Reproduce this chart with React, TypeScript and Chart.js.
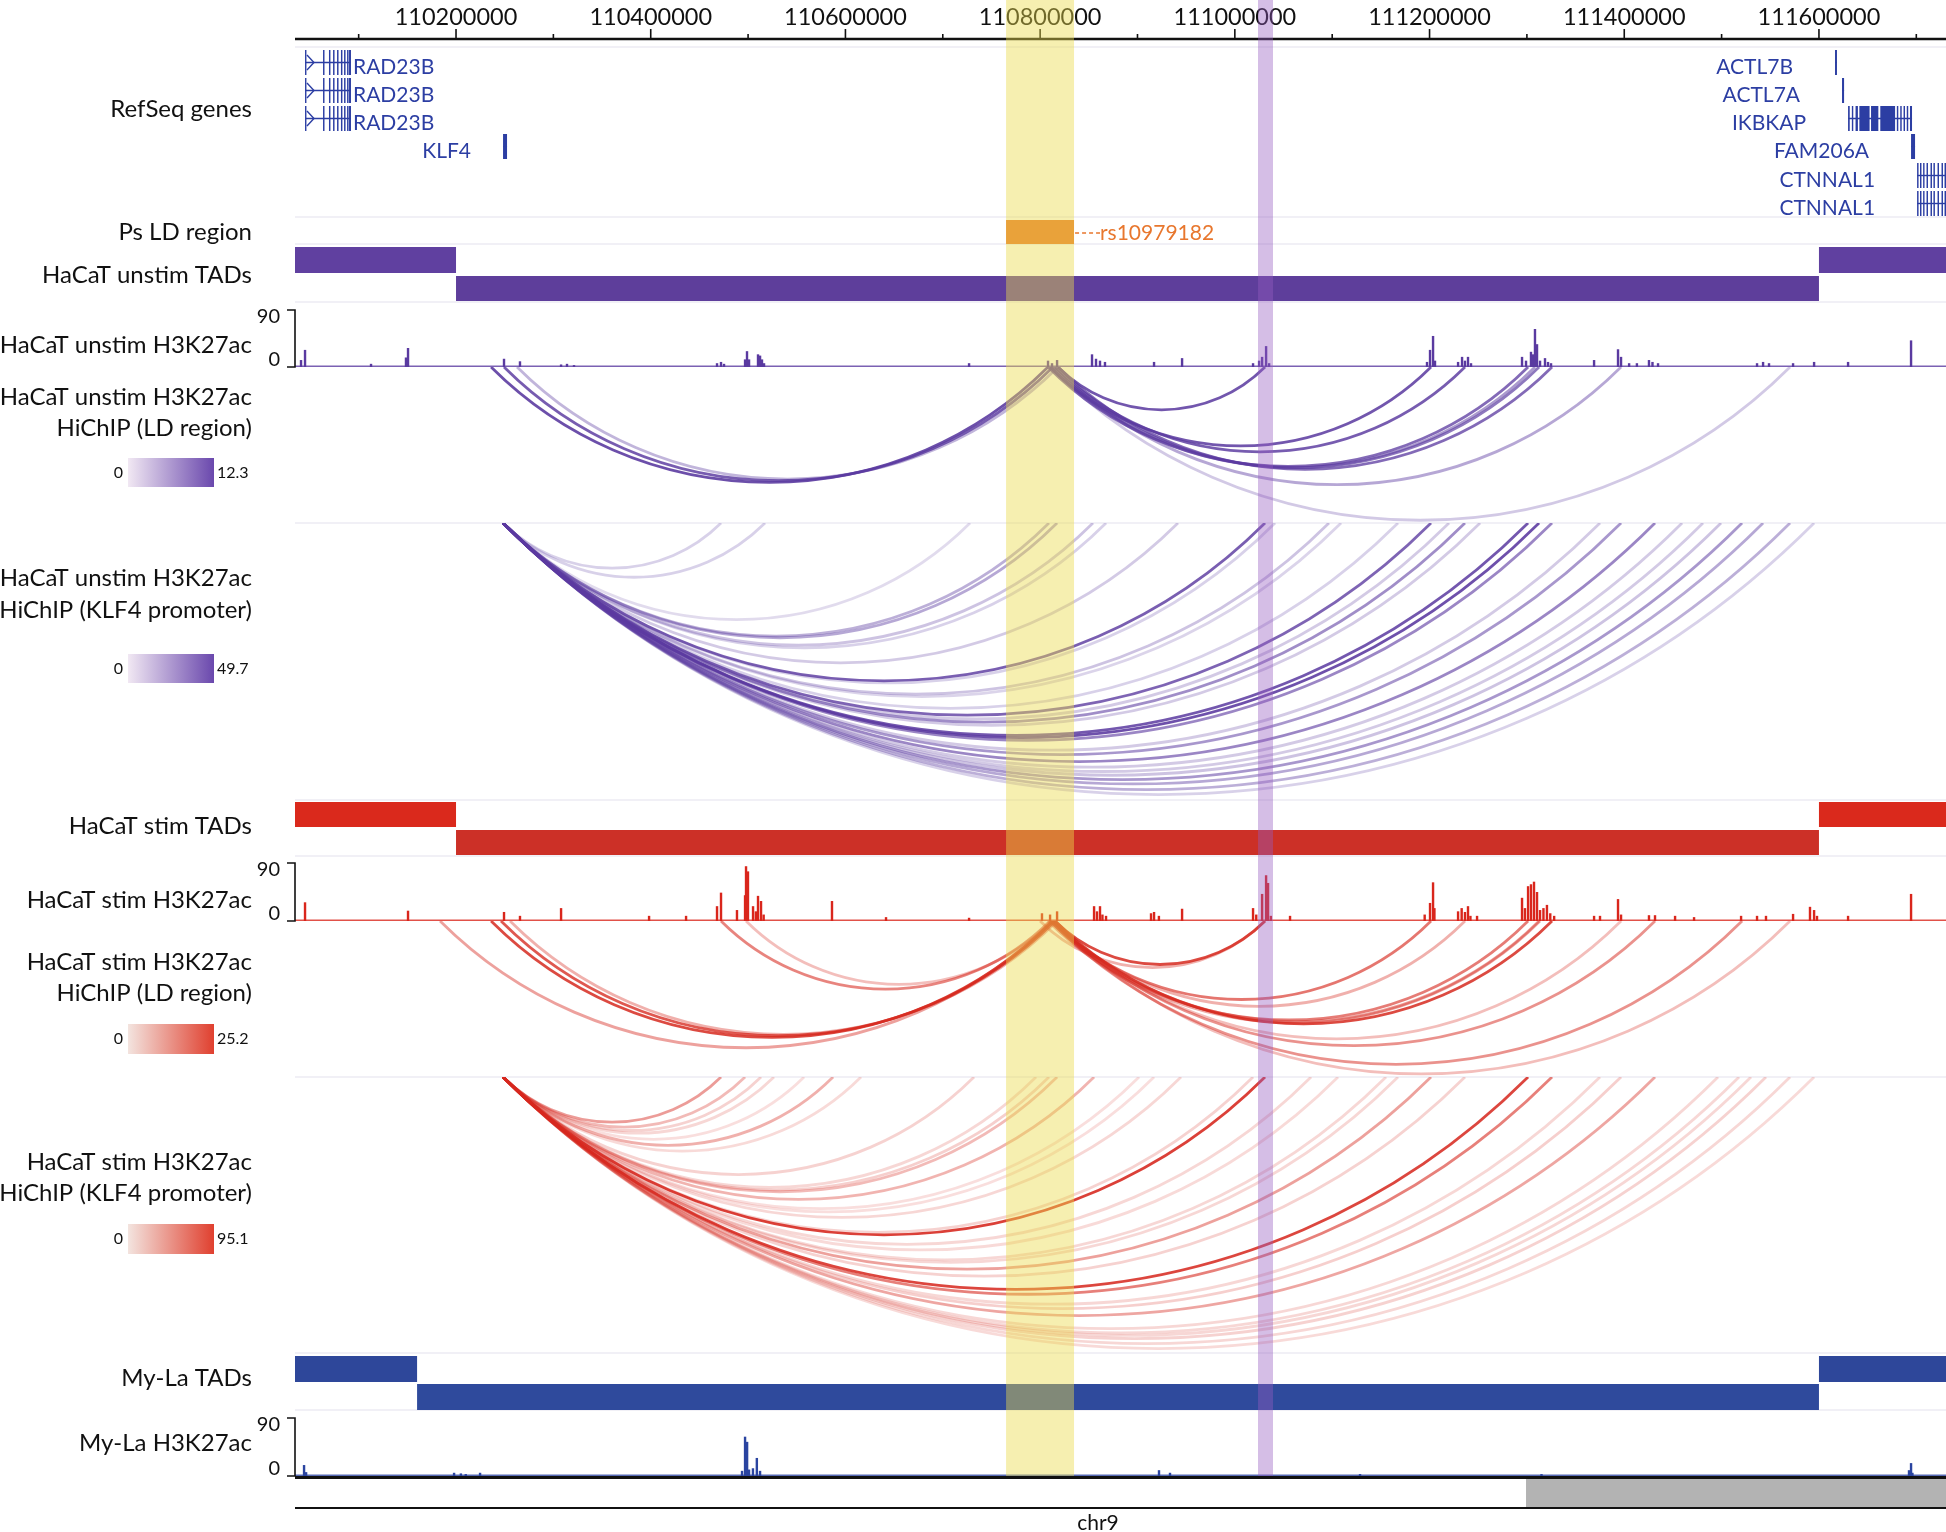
import React, { useEffect, useRef } from 'react';
import { Chart, registerables } from 'chart.js';
Chart.register(...registerables);

const W = 1946;
const H = 1532;
const LEFT = 295;

// genomic window (kb)
const X_MIN = 110034.6;
const X_MAX = 111730.5;

// ruler
const RULER_MAJOR = [110200, 110400, 110600, 110800, 111000, 111200, 111400, 111600];
const RULER_LABELS = ['110200000', '110400000', '110600000', '110800000', '111000000', '111200000', '111400000', '111600000'];
const RULER_MINOR = [110100, 110300, 110500, 110700, 110900, 111100, 111300, 111500, 111700];

// highlighted regions (kb)
const LD_REGION = [110765.0, 110834.8];
const SNP_REGION = [111023.8, 111039.2];
const SNP_LABEL = 'rs10979182';

// RefSeq genes
const GENE_NAMES = ['RAD23B', 'RAD23B', 'RAD23B', 'KLF4', 'ACTL7B', 'ACTL7A', 'IKBKAP', 'FAM206A', 'CTNNAL1', 'CTNNAL1'];
const GENE_ROWS = [0, 1, 2, 3, 0, 1, 2, 3, 4, 5];
const GENE_STARTS = [110044.9, 110044.9, 110044.9, 110248.3, 111616.5, 111623.7, 111629.9, 111694.6, 111700.8, 111700.8];
const GENE_ENDS = [110092.1, 110092.1, 110092.1, 110252.4, 111618.5, 111625.8, 111695.6, 111698.7, 111740, 111740];
const RAD23B_EXONS = [[110044.9, 110046.2], [110063.4, 110064.9], [110069.5, 110071], [110073.7, 110075.2], [110077.8, 110079.3], [110081.8, 110083.3], [110085, 110086.5], [110088.1, 110089.6], [110090.1, 110092.1]];
const CTNNAL1_EXONS = [[111700.8, 111702.3], [111703.8, 111705.3], [111707, 111708.4], [111710.5, 111712], [111714.6, 111716.1], [111717.6, 111719.1], [111721.8, 111723.3], [111725.9, 111727.4], [111729, 111730.5]];
const GENE_EXONS = [
  RAD23B_EXONS,
  RAD23B_EXONS,
  RAD23B_EXONS,
  [[110248.3, 110252.4]],
  [[111616.5, 111618.5]],
  [[111623.7, 111625.8]],
  [[111629.9, 111631.6], [111633.8, 111635], [111637.6, 111640], [111641.5, 111652], [111653.5, 111661], [111663, 111678.2], [111680, 111681.5], [111683.5, 111685], [111686.9, 111688.4], [111690.2, 111691.7], [111693.5, 111695.6]],
  [[111694.6, 111698.7]],
  CTNNAL1_EXONS,
  CTNNAL1_EXONS,
];

// TADs: [start kb, end kb, row]
const UNSTIM_TADS = [[110000, 110200, 0], [110200, 111600, 1], [111600, 111800, 0]];
const STIM_TADS = [[110000, 110200, 0], [110200, 111600, 1], [111600, 111800, 0]];
const MYLA_TADS = [[110000, 110160, 0], [110160, 111600, 1], [111600, 111800, 0]];

// H3K27ac signal: [position kb, value]
const SIGNAL_MAX = 90;
const UNSTIM_H3K27AC = [
  [110040.8, 11], [110044.9, 27], [110112.7, 5], [110148.6, 15], [110150.7, 30], [110249.3, 13], [110265.7, 9],
  [110307.9, 4], [110314, 5], [110321.2, 3], [110468.1, 6], [110472.2, 8], [110475.3, 5],
  [110496.9, 12], [110498.9, 25], [110501, 12], [110510.2, 20], [110512.3, 18], [110514.3, 12], [110516.4, 6],
  [110727, 6], [110808.1, 10], [110812.2, 6], [110817.4, 11],
  [110853.3, 20], [110857.4, 13], [110861.5, 10], [110866.6, 8], [110917, 8], [110945.8, 14],
  [111018.7, 6], [111024.9, 10], [111028, 16], [111032.1, 33], [111035.2, 6],
  [111197.4, 8], [111200.5, 27], [111203.6, 49], [111205.6, 10],
  [111229.3, 8], [111233.4, 16], [111236.4, 10], [111239.5, 16], [111242.6, 6],
  [111295, 16], [111299.1, 10], [111304.2, 24], [111306.3, 20], [111308.3, 60], [111310.4, 36], [111313.5, 10], [111318.6, 14], [111321.7, 8], [111324.8, 6],
  [111369, 11], [111393.6, 28], [111396.7, 16], [111405, 6], [111413, 6], [111425.4, 11], [111429, 8], [111434.7, 6],
  [111536.4, 6], [111542.6, 8], [111548.7, 6], [111573.4, 6], [111595, 8], [111629.9, 8], [111694.6, 42],
];
const STIM_H3K27AC = [
  [110044.9, 29], [110150.7, 16], [110249.3, 14], [110265.7, 8], [110307.9, 20], [110398.3, 8], [110436.3, 8],
  [110468.1, 23], [110472.2, 44], [110488.6, 17],
  [110496.9, 40], [110497.9, 85], [110499.9, 77], [110505.1, 23], [110508, 15], [110510.2, 39], [110513.3, 31], [110516, 10],
  [110586.2, 31], [110641.7, 6], [110727, 5], [110801.9, 12], [110810.2, 10], [110817.4, 15],
  [110855.4, 23], [110858.4, 15], [110861.5, 23], [110864, 10], [110867.7, 8],
  [110913.9, 12], [110917, 14], [110922, 8], [110945.8, 19],
  [111018.7, 20], [111022, 10], [111028, 42], [111032.1, 71], [111034.1, 59], [111037, 8], [111056.7, 8],
  [111195, 10], [111200.5, 28], [111203.6, 60], [111205, 20],
  [111229.3, 15], [111233, 20], [111236.4, 14], [111239.5, 23], [111242, 8], [111248.8, 8],
  [111295, 36], [111298, 20], [111301.2, 54], [111304.2, 57], [111307.3, 61], [111310.4, 45], [111313.5, 17], [111317, 20], [111320.6, 25], [111324, 12], [111328, 8],
  [111369, 8], [111375.1, 8], [111393.6, 34], [111396.7, 10], [111425.4, 9], [111431.6, 9], [111452.2, 8], [111471.7, 6],
  [111520, 8], [111536.4, 8], [111545.6, 8], [111573.4, 11], [111590.8, 22], [111595, 17], [111598, 8], [111629.9, 8], [111694.6, 42],
];
const MYLA_H3K27AC = [
  [110043.9, 17], [110046, 6], [110198, 5], [110205, 4], [110210, 3], [110224.7, 5],
  [110493.8, 8], [110496.9, 61], [110499, 53], [110501, 10], [110505, 12], [110509, 28], [110512.3, 8],
  [110922.1, 9], [110933.4, 5], [111128.6, 3], [111315, 3], [111692.5, 9], [111694.6, 20], [111696, 5],
];

// HiChIP loops: [anchor1 kb, anchor2 kb, score]
const UNSTIM_LD_MAX = 12.3;
const UNSTIM_LD_LOOPS = [
  [110236.0, 110808.1, 11.5], [110249.3, 110813.2, 10.5], [110262.7, 110818.4, 4.0],
  [110818.4, 111031.0, 11.0], [110810.2, 111201.5, 11.0], [110815.3, 111236.4, 10.5],
  [110808.1, 111301.2, 9.5], [110813.2, 111312.5, 8.5], [110818.4, 111325.8, 9.5], [110810.2, 111308.3, 6.0],
  [110813.2, 111396.7, 5.0], [110810.2, 111570.3, 2.5],
];
const UNSTIM_KLF4_MAX = 49.7;
const KLF4_PROMOTER = 110248.3;
const UNSTIM_KLF4_ENDS = [110472.2, 110517.4, 110728, 110809.1, 110817.4, 110854.3, 110867.7, 110941.6, 111031, 111041.3, 111096.7, 111109.1, 111167.6, 111201.5, 111220, 111236.4, 111251.9, 111301.2, 111312.5, 111325.8, 111375.1, 111396.7, 111431.6, 111459.4, 111480.9, 111499.4, 111521, 111542.6, 111570.3, 111595];
const UNSTIM_KLF4_SCORES = [8, 8, 5, 18, 20, 12, 8, 10, 42, 8, 12, 7, 8, 40, 10, 28, 10, 44, 46, 30, 10, 25, 30, 10, 10, 12, 25, 20, 18, 8];
const STIM_LD_MAX = 25.2;
const STIM_LD_LOOPS = [
  [110183.6, 110812.2, 10], [110236.0, 110813.2, 22], [110246.2, 110815.3, 20], [110255.5, 110817.4, 8],
  [110472.2, 110810.2, 14], [110497.9, 110812.2, 6],
  [110815.3, 111031.0, 22], [110799.9, 111031.0, 8], [110812.2, 111201.5, 16], [110813.2, 111236.4, 8],
  [110810.2, 111301.2, 15], [110813.2, 111312.5, 10], [110815.3, 111325.8, 22], [110808.1, 111313.5, 9],
  [110812.2, 111396.7, 6], [110813.2, 111431.6, 12], [110810.2, 111521.0, 12], [110812.2, 111570.3, 6],
];
const STIM_KLF4_MAX = 95.1;
const STIM_KLF4_ENDS = [110472.2, 110496.9, 110513.3, 110526.6, 110557.5, 110587.3, 110616, 110732.1, 110795.8, 110809.1, 110817.4, 110855.4, 110901.6, 110917, 110944.7, 111018.7, 111031, 111078.3, 111106, 111155.3, 111167.6, 111201.5, 111236.4, 111301.2, 111325.8, 111375.1, 111396.7, 111431.6, 111496.3, 111517.9, 111530.2, 111545.6, 111570.3, 111595];
const STIM_KLF4_SCORES = [40, 25, 12, 10, 6, 30, 8, 12, 10, 14, 25, 28, 6, 6, 10, 12, 88, 10, 8, 10, 10, 38, 12, 85, 55, 10, 14, 35, 10, 10, 10, 12, 10, 8];

// ideogram band under the bottom axis (kb)
const IDEOGRAM_BANDS = [[111299.1, 111800]];

// ---------------- layout (pixel rows) ----------------
const SEPARATORS = [47, 217, 244, 302, 523, 800, 856, 1077, 1353, 1410];
const GENE_ROW_Y = [67, 95, 123, 151, 180, 208];
const FONT = 'Lato, "Open Sans", sans-serif';
const PURPLE = '91,58,160';
const RED = '214,40,30';

type Txt = { lines: string[]; y: number[] };
const TRACK_LABELS: Txt[] = [
  { lines: ['RefSeq genes'], y: [109] },
  { lines: ['Ps LD region'], y: [232] },
  { lines: ['HaCaT unstim TADs'], y: [275] },
  { lines: ['HaCaT unstim H3K27ac'], y: [345] },
  { lines: ['HaCaT unstim H3K27ac', 'HiChIP (LD region)'], y: [397, 428] },
  { lines: ['HaCaT unstim H3K27ac', 'HiChIP (KLF4 promoter)'], y: [578, 610] },
  { lines: ['HaCaT stim TADs'], y: [826] },
  { lines: ['HaCaT stim H3K27ac'], y: [900] },
  { lines: ['HaCaT stim H3K27ac', 'HiChIP (LD region)'], y: [962, 993] },
  { lines: ['HaCaT stim H3K27ac', 'HiChIP (KLF4 promoter)'], y: [1162, 1193] },
  { lines: ['My-La TADs'], y: [1378] },
  { lines: ['My-La H3K27ac'], y: [1443] },
];

function drawTads(ctx: CanvasRenderingContext2D, xs: any, ys: any, tads: number[][], rows: number[][], colors: string[], left: number) {
  for (const [s, e, r] of tads) {
    const x1 = Math.max(left, xs.getPixelForValue(s));
    const x2 = Math.min(W, xs.getPixelForValue(e));
    const t = ys.getPixelForValue(rows[r][0]);
    const b = ys.getPixelForValue(rows[r][1]);
    ctx.fillStyle = colors[r];
    ctx.fillRect(x1, t, x2 - x1, b - t);
  }
}

function drawSignal(ctx: CanvasRenderingContext2D, xs: any, ys: any, data: number[][], top: number, base: number, rgb: string, left: number) {
  const yb = ys.getPixelForValue(base);
  const yt = ys.getPixelForValue(top);
  const hPx = yb - yt;
  ctx.strokeStyle = `rgba(${rgb},0.8)`;
  ctx.lineWidth = 1.5;
  ctx.beginPath();
  ctx.moveTo(left, yb - 0.75);
  ctx.lineTo(W, yb - 0.75);
  ctx.stroke();
  ctx.fillStyle = `rgb(${rgb})`;
  for (const [p, v] of data) {
    const x = xs.getPixelForValue(p);
    const h = (Math.min(v, SIGNAL_MAX) / SIGNAL_MAX) * hPx;
    ctx.fillRect(x - 1.2, yb - h, 2.4, h);
  }
  // scale bracket
  ctx.strokeStyle = '#111';
  ctx.lineWidth = 1.6;
  ctx.beginPath();
  ctx.moveTo(left - 8, yt);
  ctx.lineTo(left, yt);
  ctx.lineTo(left, yb);
  ctx.lineTo(left - 8, yb);
  ctx.stroke();
  ctx.fillStyle = '#111';
  ctx.font = `20px ${FONT}`;
  ctx.textAlign = 'right';
  ctx.textBaseline = 'middle';
  ctx.fillText('90', left - 15, yt + 7);
  ctx.fillText('0', left - 15, yb - 7);
}

function drawLoops(ctx: CanvasRenderingContext2D, xs: any, ys: any, loops: number[][], base: number, bottom: number, rgb: string, max: number, left: number) {
  const top = ys.getPixelForValue(base);
  const bot = ys.getPixelForValue(bottom);
  ctx.save();
  ctx.beginPath();
  ctx.rect(left, top, W - left, bot - top);
  ctx.clip();
  const sorted = [...loops].sort((a, b) => a[2] - b[2]);
  for (const [s, e, v] of sorted) {
    const x1 = xs.getPixelForValue(s);
    const x2 = xs.getPixelForValue(e);
    const w = Math.abs(x2 - x1);
    const cx = (x1 + x2) / 2;
    const cy = top - w / 2;
    const R = w / Math.SQRT2;
    const a = 0.1 + 0.85 * Math.min(1, v / max);
    ctx.beginPath();
    ctx.arc(cx, cy, R, Math.PI / 4, (3 * Math.PI) / 4);
    ctx.strokeStyle = `rgba(${rgb},${a.toFixed(3)})`;
    ctx.lineWidth = 2.8;
    ctx.stroke();
  }
  ctx.restore();
}

function drawColorBar(ctx: CanvasRenderingContext2D, y0: number, y1: number, c0: string, c1: string, maxLabel: string) {
  const g = ctx.createLinearGradient(128, 0, 214, 0);
  g.addColorStop(0, c0);
  g.addColorStop(1, c1);
  ctx.fillStyle = g;
  ctx.fillRect(128, y0, 86, y1 - y0);
  ctx.fillStyle = '#111';
  ctx.font = `16px ${FONT}`;
  ctx.textBaseline = 'middle';
  ctx.textAlign = 'right';
  ctx.fillText('0', 123, (y0 + y1) / 2);
  ctx.textAlign = 'left';
  ctx.fillText(maxLabel, 217, (y0 + y1) / 2);
}

const browserPlugin = {
  id: 'browser',
  beforeDraw(chart: any) {
    const ctx: CanvasRenderingContext2D = chart.ctx;
    ctx.save();
    ctx.fillStyle = '#ffffff';
    ctx.fillRect(0, 0, W, H);
    ctx.restore();
  },
  afterDraw(chart: any) {
    const ctx: CanvasRenderingContext2D = chart.ctx;
    const xs = chart.scales.x;
    const ys = chart.scales.y;
    const left = chart.chartArea.left;
    const px = (v: number) => xs.getPixelForValue(v);
    const py = (v: number) => ys.getPixelForValue(v);
    ctx.save();

    // separators
    ctx.strokeStyle = '#e3e1ee';
    ctx.lineWidth = 1.2;
    for (const s of SEPARATORS) {
      ctx.beginPath();
      ctx.moveTo(left, py(s));
      ctx.lineTo(W, py(s));
      ctx.stroke();
    }

    // ruler
    ctx.strokeStyle = '#111';
    ctx.lineWidth = 2.6;
    ctx.beginPath();
    ctx.moveTo(left, py(39));
    ctx.lineTo(W, py(39));
    ctx.stroke();
    ctx.lineWidth = 1.6;
    for (const t of RULER_MAJOR) {
      ctx.beginPath();
      ctx.moveTo(px(t), py(29));
      ctx.lineTo(px(t), py(39));
      ctx.stroke();
    }
    for (const t of RULER_MINOR) {
      if (t > X_MAX) continue;
      ctx.beginPath();
      ctx.moveTo(px(t), py(34));
      ctx.lineTo(px(t), py(39));
      ctx.stroke();
    }
    ctx.fillStyle = '#111';
    ctx.font = `23.5px ${FONT}`;
    ctx.textAlign = 'center';
    ctx.textBaseline = 'middle';
    RULER_MAJOR.forEach((t, i) => ctx.fillText(RULER_LABELS[i], px(t), py(17)));

    // genes
    const geneColor = '#2c3ea3';
    ctx.font = `21px ${FONT}`;
    GENE_NAMES.forEach((name, i) => {
      const yc = py(GENE_ROW_Y[GENE_ROWS[i]]);
      const gt = yc - 17;
      const gh = 25;
      const x1 = px(GENE_STARTS[i]);
      const x2 = Math.min(W, px(GENE_ENDS[i]));
      ctx.strokeStyle = geneColor;
      ctx.fillStyle = geneColor;
      ctx.lineWidth = 1.4;
      ctx.beginPath();
      ctx.moveTo(x1, gt + gh / 2);
      ctx.lineTo(x2, gt + gh / 2);
      ctx.stroke();
      for (const [es, ee] of GENE_EXONS[i]) {
        const ex1 = px(es);
        const ex2 = Math.min(W, px(ee));
        if (ex1 >= W) continue;
        ctx.fillRect(ex1, gt, Math.max(1.4, ex2 - ex1), gh);
      }
      if (name === 'RAD23B') {
        const cxp = px(110051);
        ctx.beginPath();
        ctx.moveTo(cxp - 4, gt + 5);
        ctx.lineTo(cxp + 3, gt + gh / 2);
        ctx.lineTo(cxp - 4, gt + gh - 5);
        ctx.stroke();
      }
      const tw = ctx.measureText(name).width;
      ctx.textBaseline = 'middle';
      if (x1 - 42 - tw < left) {
        ctx.textAlign = 'left';
        ctx.fillText(name, x2 + 2, yc);
      } else {
        ctx.textAlign = 'right';
        ctx.fillText(name, x1 - (name === 'KLF4' ? 32 : 42), yc);
      }
    });

    // LD region + SNP
    const orange = '#e8772e';
    ctx.fillStyle = orange;
    ctx.fillRect(px(LD_REGION[0]), py(220), px(LD_REGION[1]) - px(LD_REGION[0]), py(244) - py(220));
    ctx.strokeStyle = orange;
    ctx.lineWidth = 1.3;
    ctx.setLineDash([4, 3]);
    ctx.beginPath();
    ctx.moveTo(px(LD_REGION[0]) + 6, py(233));
    ctx.lineTo(px(LD_REGION[1]) + 26, py(233));
    ctx.stroke();
    ctx.setLineDash([]);
    ctx.fillStyle = orange;
    ctx.font = `21px ${FONT}`;
    ctx.textAlign = 'left';
    ctx.textBaseline = 'middle';
    ctx.fillText(SNP_LABEL, px(LD_REGION[1]) + 26, py(233));

    // TADs
    drawTads(ctx, xs, ys, UNSTIM_TADS, [[247, 273], [276, 301]], ['#6040a0', '#5e3e9b'], left);
    drawTads(ctx, xs, ys, STIM_TADS, [[802, 827], [830, 855]], ['#da291c', '#cc3027'], left);
    drawTads(ctx, xs, ys, MYLA_TADS, [[1356, 1382], [1384, 1410]], ['#2e479a', '#2f4a9c'], left);

    // signals
    drawSignal(ctx, xs, ys, UNSTIM_H3K27AC, 310, 367, '90,58,160', left);
    drawSignal(ctx, xs, ys, STIM_H3K27AC, 863, 921, '217,38,28', left);
    drawSignal(ctx, xs, ys, MYLA_H3K27AC, 1418, 1476, '42,68,160', left);

    // loops
    drawLoops(ctx, xs, ys, UNSTIM_LD_LOOPS, 367, 523, PURPLE, UNSTIM_LD_MAX, left);
    drawLoops(ctx, xs, ys, UNSTIM_KLF4_ENDS.map((e, i) => [KLF4_PROMOTER, e, UNSTIM_KLF4_SCORES[i]]), 523, 799, PURPLE, UNSTIM_KLF4_MAX, left);
    drawLoops(ctx, xs, ys, STIM_LD_LOOPS, 921, 1077, RED, STIM_LD_MAX, left);
    drawLoops(ctx, xs, ys, STIM_KLF4_ENDS.map((e, i) => [KLF4_PROMOTER, e, STIM_KLF4_SCORES[i]]), 1077, 1353, RED, STIM_KLF4_MAX, left);

    // track labels
    ctx.fillStyle = '#111';
    ctx.font = `24px ${FONT}`;
    ctx.textAlign = 'right';
    ctx.textBaseline = 'middle';
    for (const t of TRACK_LABELS) t.lines.forEach((l, i) => ctx.fillText(l, 252, py(t.y[i])));

    // color bars
    drawColorBar(ctx, 458, 487, '#f1e8f3', '#6a48ad', String(UNSTIM_LD_MAX));
    drawColorBar(ctx, 654, 683, '#f1e8f3', '#6a48ad', String(UNSTIM_KLF4_MAX));
    drawColorBar(ctx, 1024, 1054, '#f3e4df', '#e0402f', String(STIM_LD_MAX));
    drawColorBar(ctx, 1224, 1254, '#f3e4df', '#e0402f', String(STIM_KLF4_MAX));

    // bottom axis with ideogram
    ctx.fillStyle = '#b3b3b3';
    for (const [s, e] of IDEOGRAM_BANDS) {
      const x1 = px(s);
      const x2 = Math.min(W, px(e));
      ctx.fillRect(x1, py(1479), x2 - x1, py(1507) - py(1479));
    }
    ctx.strokeStyle = '#111';
    ctx.lineWidth = 3;
    ctx.beginPath();
    ctx.moveTo(left, py(1477.5));
    ctx.lineTo(W, py(1477.5));
    ctx.stroke();
    ctx.lineWidth = 2;
    ctx.beginPath();
    ctx.moveTo(left, py(1508));
    ctx.lineTo(W, py(1508));
    ctx.stroke();
    ctx.fillStyle = '#111';
    ctx.font = `21px ${FONT}`;
    ctx.textAlign = 'center';
    ctx.textBaseline = 'middle';
    ctx.fillText('chr9', 1098, py(1523));

    // highlight bands
    ctx.fillStyle = 'rgba(234,218,75,0.44)';
    ctx.fillRect(px(LD_REGION[0]), py(0), px(LD_REGION[1]) - px(LD_REGION[0]), py(1476) - py(0));
    ctx.fillStyle = 'rgba(150,92,192,0.4)';
    ctx.fillRect(px(SNP_REGION[0]), py(0), px(SNP_REGION[1]) - px(SNP_REGION[0]), py(1476) - py(0));

    ctx.restore();
  },
};

export default function App() {
  const ref = useRef<HTMLCanvasElement>(null);
  useEffect(() => {
    const canvas = ref.current;
    if (!canvas) return;
    const chart = new Chart(canvas, {
      type: 'scatter',
      data: { datasets: [{ data: [] }] },
      options: {
        responsive: false,
        animation: false,
        devicePixelRatio: 1,
        layout: { padding: { left: LEFT, right: 0, top: 0, bottom: 0 } },
        plugins: { legend: { display: false }, tooltip: { enabled: false } },
        scales: {
          x: { type: 'linear', min: X_MIN, max: X_MAX, display: false },
          y: { type: 'linear', min: 0, max: H, reverse: true, display: false },
        },
      },
      plugins: [browserPlugin],
    } as any);
    return () => chart.destroy();
  }, []);
  return (
    <div style={{ position: 'absolute', left: 0, top: 0, width: W, height: H, background: '#fff', overflow: 'hidden' }}>
      <canvas ref={ref} width={W} height={H} style={{ display: 'block', width: W, height: H }} />
    </div>
  );
}
